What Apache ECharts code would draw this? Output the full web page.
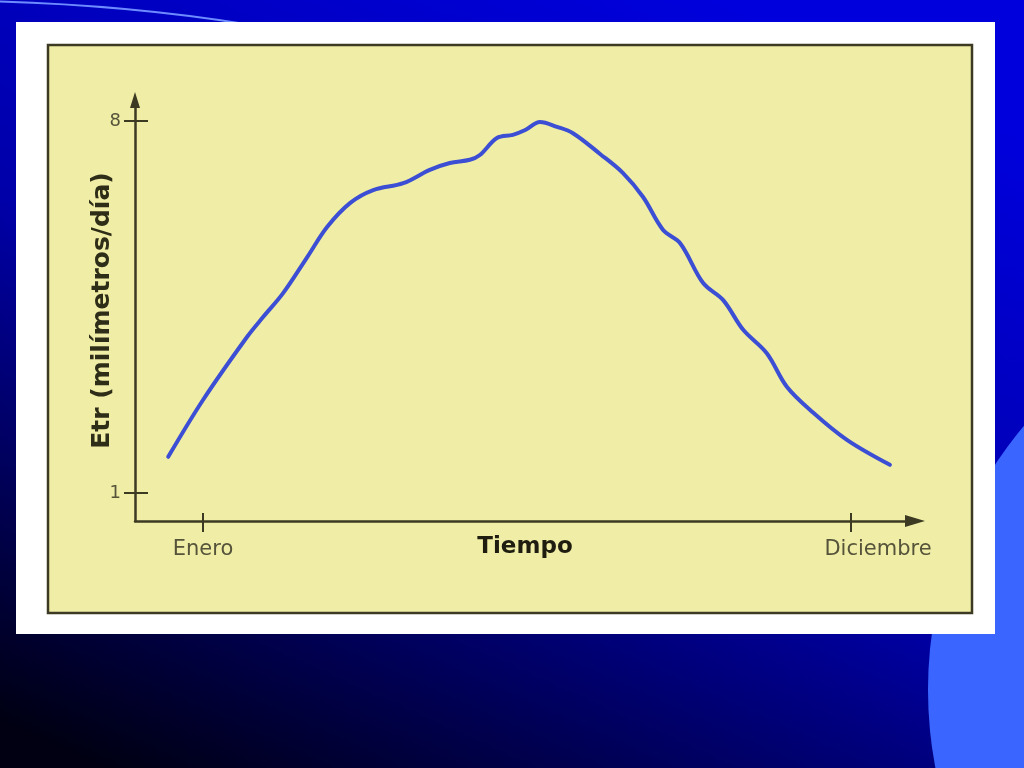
<!DOCTYPE html>
<html>
<head>
<meta charset="utf-8">
<script src="https://cdn.jsdelivr.net/npm/echarts@6/dist/echarts.min.js"></script>
<style>
  html, body { margin: 0; padding: 0; width: 1024px; height: 768px; overflow: hidden; }
  #bg { position: absolute; left: 0; top: 0; }
  #chart { position: absolute; left: 0; top: 0; width: 1024px; height: 768px; }
</style>
</head>
<body>
<svg id="bg" width="1024" height="768" xmlns="http://www.w3.org/2000/svg">
  <defs>
    <linearGradient id="g" x1="0.7" y1="0" x2="0.1" y2="1">
      <stop offset="0" stop-color="#0000dc"/>
      <stop offset="0.5" stop-color="#0000a8"/>
      <stop offset="1" stop-color="#000012"/>
    </linearGradient>
  </defs>
  <rect x="0" y="0" width="1024" height="768" fill="url(#g)"/>
  <circle cx="1340" cy="690" r="412" fill="#3a66ff"/>
  <path d="M -20 1 Q 120 4 245 24" stroke="#6f8cff" stroke-width="2" fill="none"/>
  <rect x="16" y="22" width="979" height="612" fill="#ffffff"/>
  <rect x="48" y="45" width="924" height="568" fill="#f0eea6" stroke="#3c3a22" stroke-width="2.5"/>
</svg>
<div id="chart"></div>
<script>
// Month position (0 = Enero, 11 = Diciembre) and Etr (mm/día)
const monthPos = [-0.59, 0.00, 0.75, 1.02, 1.36, 1.77, 2.11, 2.50, 2.89, 3.40, 3.85, 4.19, 4.53, 4.70, 4.99, 5.26, 5.47, 5.72, 6.01, 6.28, 6.74, 7.13, 7.47, 7.81, 8.10, 8.49, 8.83, 9.17, 9.57, 9.91, 10.36, 10.93, 11.66];
const etr      = [1.68, 2.75, 3.94, 4.31, 4.76, 5.44, 6.01, 6.46, 6.70, 6.83, 7.08, 7.21, 7.27, 7.36, 7.68, 7.74, 7.83, 7.98, 7.89, 7.77, 7.38, 7.02, 6.57, 5.95, 5.70, 4.95, 4.63, 4.07, 3.63, 3.00, 2.51, 2.00, 1.53];

const xTickValues = [0, 11];
const xTickLabels = ['Enero', 'Diciembre'];
const yTickValues = [1, 8];
const yTickLabels = ['1', '8'];

const xName = 'Tiempo';
const yName = 'Etr (milímetros/día)';

const X_MIN = -1.154, X_MAX = 12.086;
const Y_MIN = 0.473, Y_MAX = 8.395;

const ink = '#3c3a22';
const gridRect = { left: 135, top: 100, right: 109, bottom: 247 };

const chart = echarts.init(document.getElementById('chart'), null, { renderer: 'canvas' });
chart.setOption({
  backgroundColor: 'transparent',
  animation: false,
  grid: [
    Object.assign({}, gridRect),
    Object.assign({}, gridRect)
  ],
  xAxis: [
    {
      type: 'value', gridIndex: 0, min: X_MIN, max: X_MAX,
      axisLine: { show: true, onZero: false, lineStyle: { color: ink, width: 2.5 },
                  symbol: ['none', 'triangle'], symbolSize: [12, 20] },
      axisTick: { show: true, customValues: xTickValues, length: 11, lineStyle: { color: ink, width: 2 } },
      axisLabel: {
        show: true, customValues: xTickValues, margin: 18,
        fontFamily: 'DejaVu Sans', fontSize: 21, color: '#55533a',
        formatter: function (v) {
          const i = xTickValues.indexOf(v);
          if (i < 0) return '';
          return i === xTickValues.length - 1 ? '{r|' + xTickLabels[i] + '}' : xTickLabels[i];
        },
        rich: { r: { fontFamily: 'DejaVu Sans', fontSize: 21, color: '#55533a', padding: [0, 0, 0, 54] } }
      },
      splitLine: { show: false },
      name: xName, nameLocation: 'middle', nameGap: 15, nameMoveOverlap: false,
      nameTextStyle: { fontFamily: 'DejaVu Sans', fontWeight: 'bold', fontSize: 23, color: '#1e1d10' }
    },
    {
      type: 'value', gridIndex: 1, min: X_MIN, max: X_MAX,
      axisLine: { show: false, onZero: false },
      axisTick: { show: true, inside: true, customValues: xTickValues, length: 8, lineStyle: { color: ink, width: 2 } },
      axisLabel: { show: false },
      splitLine: { show: false }
    }
  ],
  yAxis: [
    {
      type: 'value', gridIndex: 0, min: Y_MIN, max: Y_MAX,
      axisLine: { show: true, onZero: false, lineStyle: { color: ink, width: 2.5 },
                  symbol: ['none', 'triangle'], symbolSize: [10, 16] },
      axisTick: { show: true, customValues: yTickValues, length: 11, lineStyle: { color: ink, width: 2 } },
      axisLabel: {
        show: true, customValues: yTickValues, margin: 14,
        fontFamily: 'DejaVu Sans', fontSize: 18, color: '#55533a',
        formatter: function (v) {
          const i = yTickValues.indexOf(v);
          return i < 0 ? '' : yTickLabels[i];
        }
      },
      splitLine: { show: false },
      name: yName, nameLocation: 'middle', nameGap: 20, nameRotate: 90, nameMoveOverlap: false,
      nameTextStyle: { fontFamily: 'DejaVu Sans', fontWeight: 'bold', fontSize: 25, color: '#2e2d18' }
    },
    {
      type: 'value', gridIndex: 1, min: Y_MIN, max: Y_MAX,
      axisLine: { show: false, onZero: false },
      axisTick: { show: true, inside: true, customValues: yTickValues, length: 13, lineStyle: { color: ink, width: 2 } },
      axisLabel: { show: false },
      splitLine: { show: false }
    }
  ],
  series: [
    {
      type: 'line',
      xAxisIndex: 0, yAxisIndex: 0,
      data: monthPos.map(function (x, i) { return [x, etr[i]]; }),
      smooth: 0.35,
      showSymbol: false,
      lineStyle: { color: '#3b4ed4', width: 4, cap: 'round', join: 'round' },
      z: 5
    }
  ]
});
</script>
</body>
</html>
